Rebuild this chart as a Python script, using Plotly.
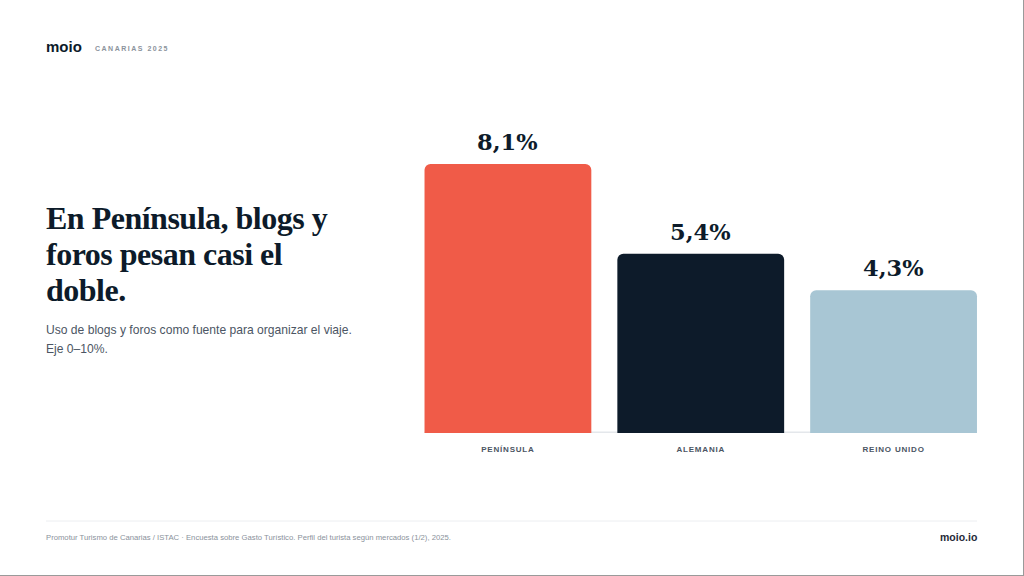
import plotly.graph_objects as go

# ---- data ----
categories = ["PENÍNSULA", "ALEMANIA", "REINO UNIDO"]
values = [8.1, 5.4, 4.3]
value_labels = ["8,1%", "5,4%", "4,3%"]
bar_colors = ["#f05b48", "#0d1b2a", "#a8c6d4"]
y_range = [0, 10]

title_lines = ["En Península, blogs y", "foros pesan casi el", "doble."]
subtitle_lines = ["Uso de blogs y foros como fuente para organizar el viaje.", "Eje 0–10%."]
brand = "moio"
header_tag = "CANARIAS 2025"
source_text = ("Promotur Turismo de Canarias / ISTAC · Encuesta sobre Gasto Turístico. "
               "Perfil del turista según mercados (1/2), 2025.")
footer_brand = "moio.io"

W, H = 1024, 576
def px(x):
    return x / W
def py(y):
    return 1 - y / H

NAVY = "#0d1b2a"
bargap = 0.135

fig = go.Figure()
fig.add_trace(go.Bar(
    x=categories, y=values,
    marker=dict(color=bar_colors, line=dict(width=0), cornerradius=6),
    hoverinfo="skip", showlegend=False,
))

# value labels above bars (positioned via data coords)
for c, v, t in zip(categories, values, value_labels):
    fig.add_annotation(x=c, y=v, xref="x", yref="y", text=t, showarrow=False,
                       yanchor="bottom", yshift=7,
                       font=dict(family="DejaVu Serif", size=22.5, color=NAVY, weight="bold"))

# baseline
fig.add_shape(type="line", xref="x", yref="y", x0=-0.5 + bargap / 2, x1=2.5 - bargap / 2,
              y0=0, y1=0, line=dict(color="#e4e7eb", width=3), layer="below")

annos = []
# title lines
for i, (line, yc) in enumerate(zip(title_lines, [218, 254, 290])):
    annos.append(dict(x=px(44), y=py(yc), text=line, xanchor="left", yanchor="middle",
                      font=dict(family="Liberation Serif", size=32, color=NAVY, weight="bold")))
for line, yc in zip(subtitle_lines, [330, 349]):
    annos.append(dict(x=px(44), y=py(yc), text=line, xanchor="left", yanchor="middle",
                      font=dict(family="Liberation Sans", size=12.1, color="#4b5563")))
annos.append(dict(x=px(44), y=py(46), text=brand, xanchor="left", yanchor="middle",
                  font=dict(family="Liberation Sans", size=15, color=NAVY, weight="bold")))
annos.append(dict(x=px(93), y=py(49), text=header_tag, xanchor="left", yanchor="middle",
                  font=dict(family="Liberation Sans", size=7, color="#8b939c", weight="bold")))
annos.append(dict(x=px(44), y=py(537), text=source_text, xanchor="left", yanchor="middle",
                  font=dict(family="Liberation Sans", size=7.7, color="#8a929b")))
annos.append(dict(x=px(979), y=py(537), text=footer_brand, xanchor="right", yanchor="middle",
                  font=dict(family="Liberation Sans", size=10.5, color="#1f2937", weight="bold")))
for a in annos:
    a.update(xref="paper", yref="paper", showarrow=False, align="left")
    fig.add_annotation(**a)

# footer rule and page frame
fig.add_shape(type="line", xref="paper", yref="paper", x0=px(46), x1=px(977),
              y0=py(521), y1=py(521), line=dict(color="#eceef1", width=1))
fig.add_shape(type="line", xref="paper", yref="paper", x0=px(1023.5), x1=px(1023.5),
              y0=0, y1=1, line=dict(color="#9a9a9a", width=1))
fig.add_shape(type="line", xref="paper", yref="paper", x0=0, x1=1,
              y0=py(575.5), y1=py(575.5), line=dict(color="#9a9a9a", width=1))

fig.update_layout(
    width=W, height=H,
    margin=dict(l=0, r=0, t=0, b=0),
    paper_bgcolor="white", plot_bgcolor="white",
    bargap=bargap,
    xaxis=dict(domain=[px(411.5), px(990)], showgrid=False, zeroline=False, showline=False,
               ticks="", ticklabelstandoff=10, fixedrange=True,
               tickfont=dict(family="Liberation Sans", size=8, color="#4b5563", weight="bold")),
    yaxis=dict(domain=[py(433), py(101)], range=y_range, showgrid=False, zeroline=False,
               showline=False, showticklabels=False, fixedrange=True),
)

post = """
var s = document.createElement('style');
s.textContent = 'html,body{margin:0;padding:0;overflow:hidden;}' +
  '.xtick text{letter-spacing:0.8px;}' +
  'g.annotation[data-index="3"] text, g.annotation[data-index="4"] text, g.annotation[data-index="5"] text{letter-spacing:-0.5px;}' +
  'g.annotation[data-index="9"] text{letter-spacing:1.5px;}';
document.head.appendChild(s);
"""
fig.write_html("out.html", post_script=post, config={"displayModeBar": False})
